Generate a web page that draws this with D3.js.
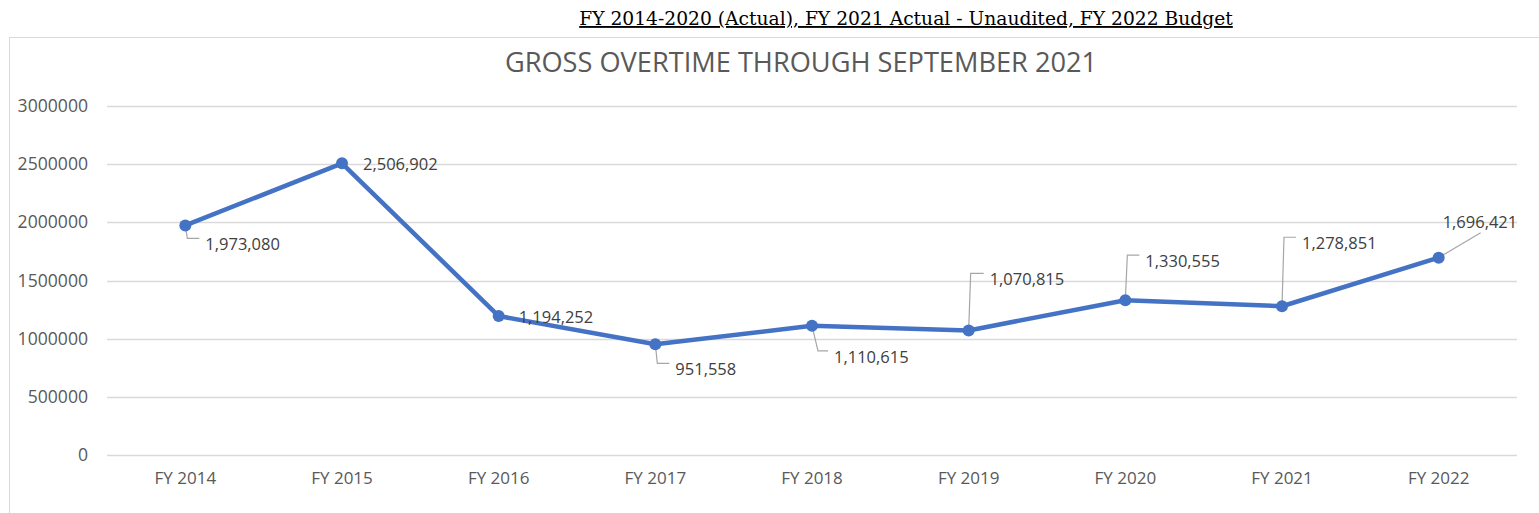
<html>
<head>
<script src="https://cdn.jsdelivr.net/npm/d3@7"></script>
<style>
  body { margin: 0; background: #fff; }
  text { font-family: "Open Sans", "Noto Sans", sans-serif; }
</style>
</head>
<body>
<div id="chart"></div>
<script>
// data
const years = ["FY 2014", "FY 2015", "FY 2016", "FY 2017", "FY 2018", "FY 2019", "FY 2020", "FY 2021", "FY 2022"];
const overtime = [1973080, 2506902, 1194252, 951558, 1110615, 1070815, 1330555, 1278851, 1696421];
const yTicks = [0, 500000, 1000000, 1500000, 2000000, 2500000, 3000000];

// label placement relative to point: [dx, dy] of the text anchor, leader style
const labelPos = [
  { dx: 20, dy: 19, leader: "down" },
  { dx: 21, dy: 1, leader: null },
  { dx: 20, dy: 1, leader: null },
  { dx: 20, dy: 25, leader: "down" },
  { dx: 22, dy: 31, leader: "down" },
  { dx: 21, dy: -51, leader: "up" },
  { dx: 20, dy: -39, leader: "up" },
  { dx: 20, dy: -63, leader: "up" },
  { dx: 4, dy: -35, leader: "diag" }
];

const W = 1539, H = 513;
const margin = { top: 106, left: 107, right: 22, bottom: 58 };

const svg = d3.select("#chart").append("svg")
  .attr("width", W).attr("height", H);

// heading above chart
svg.append("text")
  .attr("x", 906).attr("y", 25)
  .attr("text-anchor", "middle")
  .style("font-family", "'DejaVu Serif', 'Liberation Serif', serif")
  .style("font-size", "18.7px")
  .style("fill", "#000")
  .style("text-decoration", "underline")
  .text("FY 2014-2020 (Actual), FY 2021 Actual - Unaudited, FY 2022 Budget");

// chart area border
svg.append("rect")
  .attr("x", 9.5).attr("y", 37.5)
  .attr("width", W + 10).attr("height", H)
  .attr("fill", "none").attr("stroke", "#d9d9d9");

svg.append("text")
  .attr("x", 801).attr("y", 72)
  .attr("text-anchor", "middle")
  .style("font-size", "27.2px")
  .style("fill", "#595959")
  .text("GROSS OVERTIME THROUGH SEPTEMBER 2021");

let x = d3.scaleBand().domain(years).range([margin.left, W - margin.right]);
let y = d3.scaleLinear().domain([0, 3000000]).range([H - margin.bottom, margin.top]);

// gridlines
svg.append("g").selectAll("line").data(yTicks).enter().append("line")
  .attr("x1", margin.left).attr("x2", W - margin.right)
  .attr("y1", d => Math.round(y(d)) + 0.5).attr("y2", d => Math.round(y(d)) + 0.5)
  .attr("stroke", "#d9d9d9").attr("stroke-width", 1.3);

let yAxis = d3.axisLeft(y).tickValues(yTicks).tickSize(0).tickPadding(19).tickFormat(d3.format("d"));
let yAxisGroup = svg.append("g")
  .attr("transform", "translate(" + margin.left + ",0)")
  .call(yAxis);
yAxisGroup.select(".domain").remove();
yAxisGroup.selectAll("text").style("font-size", "17.6px").style("fill", "#595959")
  .style("font-family", "'Open Sans', sans-serif");

let xAxis = d3.axisBottom(x).tickSize(0).tickPadding(17);
let xAxisGroup = svg.append("g")
  .attr("transform", "translate(0," + (H - margin.bottom) + ")")
  .call(xAxis);
xAxisGroup.select(".domain").remove();
xAxisGroup.selectAll("text").style("font-size", "17px").style("fill", "#595959")
  .style("font-family", "'Open Sans', sans-serif");

const cx = (d, i) => x(years[i]) + x.bandwidth() / 2;

let line = d3.line().x((d, i) => cx(d, i)).y(d => y(d));

svg.append("path")
  .datum(overtime)
  .attr("d", line)
  .attr("fill", "none")
  .attr("stroke", "#4472c4")
  .attr("stroke-width", 4.5)
  .attr("stroke-linejoin", "round");

// leader lines
let leaders = svg.append("g");
overtime.forEach((v, i) => {
  let p = labelPos[i];
  if (!p.leader) return;
  let px = cx(v, i), py = y(v);
  let ty = py + p.dy;
  let pts;
  if (p.leader === "down" || p.leader === "up") {
    let lx = p.leader === "down" && i === 4 ? px + 6 : px + 2;
    pts = [[px, py], [lx, ty - 6], [px + p.dx - 6, ty - 6]];
  } else {
    pts = [[px, py], [px + 42, ty + 10]];
  }
  leaders.append("path")
    .attr("d", d3.line()(pts))
    .attr("fill", "none")
    .attr("stroke", "#a6a6a6")
    .attr("stroke-width", 1.2);
});

svg.append("g").selectAll("circle").data(overtime).enter().append("circle")
  .attr("cx", (d, i) => cx(d, i))
  .attr("cy", d => y(d))
  .attr("r", 6)
  .attr("fill", "#4472c4");

svg.append("g").selectAll("text").data(overtime).enter().append("text")
  .attr("x", (d, i) => cx(d, i) + labelPos[i].dx)
  .attr("y", (d, i) => y(d) + labelPos[i].dy)
  .attr("dy", "0.35em")
  .style("font-size", "16.5px")
  .style("fill", "#404040")
  .text(d => d3.format(",")(d));
</script>
</body>
</html>
